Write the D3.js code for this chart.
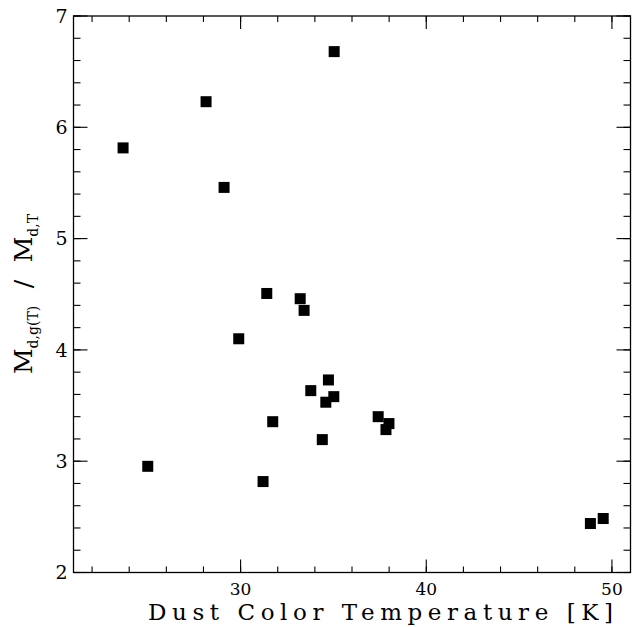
<!DOCTYPE html>
<html>
<head>
<meta charset="utf-8">
<script src="https://cdn.jsdelivr.net/npm/d3@7"></script>
<style>
    body { margin: 0; background: #fff; }
    text { font-family: "DejaVu Serif", "Liberation Serif", serif; fill: #000; }
</style>
</head>
<body>
<div id="chart"></div>
<script>
// dust colour temperature (K) vs. mass ratio
let tempK = [23.67, 28.14, 29.11, 35.04, 31.41, 33.21, 33.42, 29.90, 33.78, 31.73, 25.00,
             31.21, 34.40, 34.73, 34.59, 35.02, 37.41, 37.83, 37.99, 48.84, 49.53]
let massRatio = [5.815, 6.23, 5.46, 6.68, 4.507, 4.46, 4.355, 4.10, 3.634, 3.355, 2.954,
                 2.817, 3.194, 3.73, 3.53, 3.58, 3.40, 3.284, 3.338, 2.44, 2.485]

let xMajor = [30, 40, 50]
let xMinor = d3.range(22, 51, 2)
let yMajor = [2, 3, 4, 5, 6, 7]
let yMinor = d3.range(2, 7.01, 0.2)

let W = 637, H = 627
let margin = {top: 16, right: 6.5, bottom: 54.5, left: 73.5}
let width = W - margin.left - margin.right
let height = H - margin.top - margin.bottom

let svg = d3.select("#chart").append("svg")
    .attr("width", W)
    .attr("height", H)
let g = svg.append("g")
    .attr("transform", "translate(" + margin.left + "," + margin.top + ")")

let x = d3.scaleLinear().domain([21, 51]).range([0, width])
let y = d3.scaleLinear().domain([2, 7]).range([height, 0])

// frame
g.append("rect")
    .attr("width", width)
    .attr("height", height)
    .attr("fill", "none")
    .attr("stroke", "#000")
    .attr("stroke-width", 1.3)

// ticks on all four sides, pointing inwards
function drawTicks(values, len) {
    values.forEach(function(v) {
        let px = x(v)
        g.append("line").attr("x1", px).attr("x2", px).attr("y1", height).attr("y2", height - len)
        g.append("line").attr("x1", px).attr("x2", px).attr("y1", 0).attr("y2", len)
    })
}
function drawYTicks(values, len) {
    values.forEach(function(v) {
        let py = y(v)
        g.append("line").attr("y1", py).attr("y2", py).attr("x1", 0).attr("x2", len)
        g.append("line").attr("y1", py).attr("y2", py).attr("x1", width).attr("x2", width - len)
    })
}
drawTicks(xMinor, 6)
drawTicks(xMajor, 13)
drawYTicks(yMinor, 7)
drawYTicks(yMajor, 14)
g.selectAll("line").attr("stroke", "#000").attr("stroke-width", 1.1)

// tick labels
g.selectAll(".xlab")
    .data(xMajor)
    .enter()
    .append("text")
    .attr("x", function(d) { return x(d) })
    .attr("y", height + 22)
    .attr("text-anchor", "middle")
    .style("font-size", "17px")
    .text(function(d) { return d })

g.selectAll(".ylab")
    .data(yMajor)
    .enter()
    .append("text")
    .attr("x", -6)
    .attr("y", function(d) { return y(d) })
    .attr("dy", "0.36em")
    .attr("text-anchor", "end")
    .style("font-size", "19px")
    .text(function(d) { return d })

// axis titles
g.append("text")
    .attr("x", 148 - margin.left)
    .attr("y", height + 47.5)
    .attr("textLength", 465)
    .attr("lengthAdjust", "spacing")
    .style("font-size", "23px")
    .text("Dust Color Temperature [K]")

let ylab = svg.append("text")
    .attr("transform", "translate(32,294) rotate(-90)")
    .attr("text-anchor", "middle")
    .style("font-size", "25px")
ylab.append("tspan").text("M")
ylab.append("tspan").attr("dy", 6).style("font-size", "14px").text("d,g(T)")
ylab.append("tspan").attr("dy", -6).text("\u2002\u2009/\u2002\u2009")
ylab.append("tspan").text("M")
ylab.append("tspan").attr("dy", 6).style("font-size", "14px").text("d,T")

// data points
let pts = d3.range(tempK.length)
let s = 11
g.selectAll(".pt")
    .data(pts)
    .enter()
    .append("rect")
    .attr("class", "pt")
    .attr("x", function(i) { return x(tempK[i]) - s / 2 })
    .attr("y", function(i) { return y(massRatio[i]) - s / 2 })
    .attr("width", s)
    .attr("height", s)
    .attr("fill", "#000")
</script>
</body>
</html>
